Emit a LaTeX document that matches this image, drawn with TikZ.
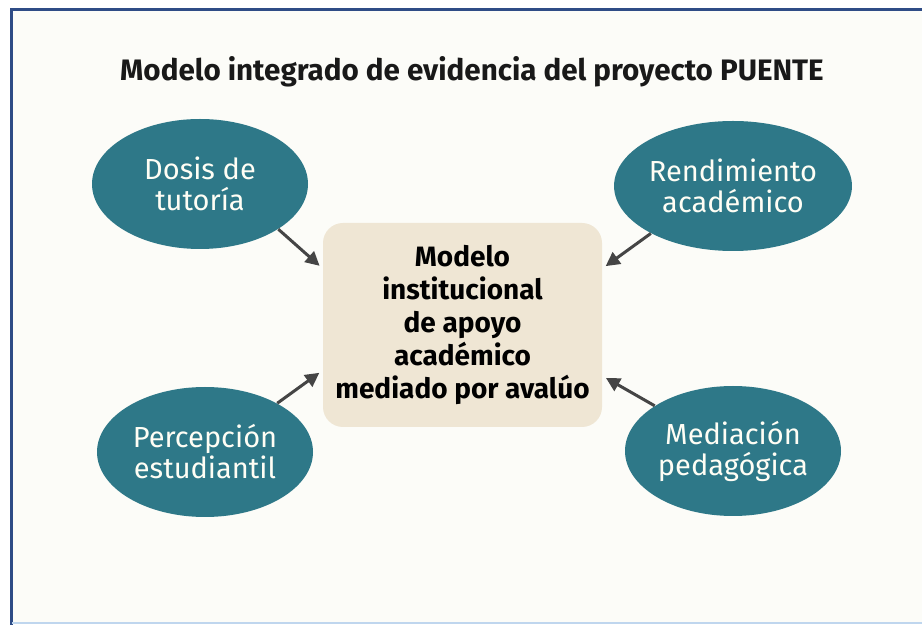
\documentclass[tikz,border=0pt]{standalone}
\usepackage{fontspec}
\setmainfont{Fira Sans}
\usetikzlibrary{shapes.geometric, arrows.meta}

\definecolor{frameblue}{HTML}{2F4C86}
\definecolor{edgeblue}{HTML}{BFD6EE}
\definecolor{paper}{HTML}{FCFCF8}
\definecolor{tealblue}{HTML}{2E7888}
\definecolor{boxtan}{HTML}{EFE6D4}
\definecolor{arrowgray}{HTML}{454545}

\tikzset{
  bubble/.style = {ellipse, fill = tealblue, text = white!96!yellow, align = center, inner sep = 0pt,
    minimum width = 108pt, minimum height = 65pt, font = \fontsize{14.5}{15.5}\selectfont},
  hub/.style = {rectangle, rounded corners = 10pt, fill = boxtan, align = center, inner sep = 0pt,
    minimum width = 139.5pt, minimum height = 102pt, font = \bfseries\fontsize{14}{16.5}\selectfont},
  feed/.style = {-{Triangle[length = 7pt, width = 7pt]}, line width = 1.5pt, arrowgray, shorten > = 2pt}
}

\begin{document}
\begin{tikzpicture}[x = 0.5pt, y = -0.5pt]

    \useasboundingbox (0,0) rectangle (922,625);
    \fill [white] (0,0) rectangle (922,625);
    \fill [paper] (12,11) rectangle (922,622);
    \draw [frameblue, line width = 1.5pt] (11,625) -- (11,10) -- (922,10);
    \draw [edgeblue, line width = 1pt] (12,623.5) -- (922,623.5);

    \node [font = \bfseries\fontsize{14.8}{17}\selectfont, text = black!90] (titulo) at (472,72)
      {Modelo integrado de evidencia del proyecto PUENTE};

    \node [hub] (modelo) at (462.5,325)
      {Modelo\\institucional\\de apoyo\\académico\\mediado por avalúo};

    \node [bubble] (dosis) at (200,184) {Dosis de\\tutoría};
    \node [bubble, minimum width = 111pt] (rendimiento) at (733,186) {Rendimiento\\académico};
    \node [bubble] (percepcion) at (205,452) {Percepción\\estudiantil};
    \node [bubble] (mediacion) at (733,451) {Mediación\\pedagógica};

    \draw [feed] (dosis.-30) -- (modelo.158);
    \draw [feed] (rendimiento.210) -- (modelo.22);
    \draw [feed] (percepcion.34) -- (modelo.198);
    \draw [feed] (mediacion.150) -- (modelo.-20);

\end{tikzpicture}
\end{document}
